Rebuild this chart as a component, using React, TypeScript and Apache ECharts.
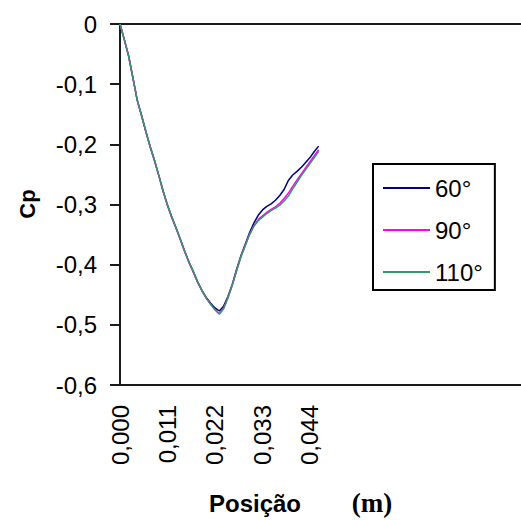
import React, { useEffect, useRef } from "react";
import * as echarts from "echarts";

const positions = [
  0, 0.001, 0.002, 0.003, 0.004, 0.005, 0.006, 0.007, 0.008, 0.009,
  0.01, 0.011, 0.012, 0.013, 0.014, 0.015, 0.016, 0.017, 0.018, 0.019,
  0.02, 0.021, 0.022, 0.023, 0.024, 0.025, 0.026, 0.027, 0.028, 0.029,
  0.03, 0.031, 0.032, 0.033, 0.034, 0.035, 0.036, 0.037, 0.038, 0.039,
  0.04, 0.041, 0.042, 0.043, 0.044, 0.045, 0.046,
];

const cp60 = [
  0, -0.026, -0.053, -0.09, -0.127, -0.152, -0.179, -0.204, -0.227, -0.252,
  -0.278, -0.301, -0.321, -0.339, -0.358, -0.378, -0.396, -0.412, -0.429, -0.443,
  -0.455, -0.464, -0.472, -0.477, -0.469, -0.453, -0.433, -0.408, -0.385, -0.366,
  -0.347, -0.331, -0.318, -0.309, -0.303, -0.299, -0.293, -0.285, -0.275, -0.26,
  -0.251, -0.245, -0.238, -0.23, -0.222, -0.212, -0.203,
];

const cp90 = [
  0, -0.026, -0.054, -0.09, -0.127, -0.153, -0.179, -0.205, -0.228, -0.252,
  -0.279, -0.302, -0.322, -0.34, -0.359, -0.379, -0.397, -0.413, -0.43, -0.444,
  -0.456, -0.466, -0.475, -0.482, -0.473, -0.455, -0.434, -0.41, -0.387, -0.368,
  -0.35, -0.336, -0.325, -0.319, -0.313, -0.308, -0.304, -0.298, -0.29, -0.281,
  -0.27, -0.259, -0.249, -0.239, -0.229, -0.219, -0.209,
];

const cp110 = [
  0, -0.026, -0.053, -0.09, -0.127, -0.152, -0.179, -0.204, -0.227, -0.252,
  -0.278, -0.301, -0.321, -0.339, -0.358, -0.378, -0.396, -0.412, -0.429, -0.443,
  -0.456, -0.466, -0.475, -0.482, -0.473, -0.455, -0.434, -0.41, -0.387, -0.368,
  -0.35, -0.336, -0.327, -0.321, -0.315, -0.31, -0.306, -0.301, -0.294, -0.286,
  -0.274, -0.263, -0.252, -0.242, -0.232, -0.222, -0.212,
];

const seriesNames = ["60°", "90°", "110°"];
const seriesColors = ["#000080", "#FF00FF", "#339966"];
const seriesValues = [cp60, cp90, cp110];

const yTitle = "Cp";
const xTitle = "Posição";
const xUnit = "(m)";

const FONT = "'Liberation Sans', Arial, sans-serif";

export default function App() {
  const ref = useRef<HTMLDivElement>(null);
  useEffect(() => {
    if (!ref.current) return;
    const chart = echarts.init(ref.current, null, { renderer: "svg" });
    const axisColor = "#1a1a1a";
    chart.setOption({
      animation: false,
      backgroundColor: "#ffffff",
      grid: {
        left: 120,
        top: 24,
        right: 0,
        bottom: 135,
        outerBoundsMode: "none",
        containLabel: false,
      },
      xAxis: [
        {
          type: "value",
          min: 0,
          max: 0.09287,
          interval: 0.011,
          position: "bottom",
          axisLine: { show: true, onZero: false, lineStyle: { color: axisColor, width: 2 } },
          axisTick: { show: false },
          splitLine: { show: false },
          axisLabel: {
            rotate: 90,
            margin: 20,
            color: "#000",
            fontFamily: FONT,
            fontSize: 24,
            showMaxLabel: false,
            formatter: (v: number) => (v <= 0.045 ? v.toFixed(3).replace(".", ",") : ""),
          },
        },
        {
          type: "value",
          min: 0,
          max: 0.09287,
          position: "top",
          axisLine: { show: true, onZero: false, lineStyle: { color: axisColor, width: 2 } },
          axisTick: { show: false },
          splitLine: { show: false },
          axisLabel: { show: false },
        },
      ],
      yAxis: {
        type: "value",
        min: -0.6,
        max: 0,
        interval: 0.1,
        axisLine: { show: true, onZero: false, lineStyle: { color: axisColor, width: 2 } },
        axisTick: { show: true, inside: false, length: 10, lineStyle: { color: axisColor, width: 2 } },
        splitLine: { show: false },
        axisLabel: {
          margin: 23,
          color: "#000",
          fontFamily: FONT,
          fontSize: 24,
          formatter: (v: number) => (Math.abs(v) < 1e-9 ? "0" : v.toFixed(1).replace(".", ",")),
        },
      },
      legend: {
        show: true,
        orient: "vertical",
        left: 373,
        top: 164,
        icon: "rect",
        itemWidth: 47,
        itemHeight: 2,
        itemGap: 16,
        padding: [11, 12, 5, 10],
        borderColor: "#000",
        borderWidth: 2,
        backgroundColor: "#fff",
        textStyle: { color: "#000", fontFamily: FONT, fontSize: 24, lineHeight: 26 },
        data: seriesNames,
      },
      series: seriesNames.map((name, i) => ({
        name,
        type: "line",
        xAxisIndex: 0,
        showSymbol: false,
        symbol: "none",
        data: positions.map((x, j) => [x, seriesValues[i][j]]),
        lineStyle: { color: seriesColors[i], width: 1.5 },
        itemStyle: { color: seriesColors[i] },
      })),
      graphic: [
        {
          type: "text",
          x: 27,
          y: 204,
          rotation: Math.PI / 2,
          style: {
            text: yTitle,
            fontFamily: FONT,
            fontWeight: "bold",
            fontSize: 22,
            fill: "#000",
            textAlign: "center",
            textVerticalAlign: "middle",
          },
        },
        {
          type: "text",
          x: 255,
          y: 503,
          style: {
            text: xTitle,
            fontFamily: FONT,
            fontWeight: "bold",
            fontSize: 24,
            fill: "#000",
            textAlign: "center",
            textVerticalAlign: "middle",
          },
        },
        {
          type: "text",
          x: 372,
          y: 503,
          style: {
            text: xUnit,
            fontFamily: "'Liberation Serif', 'Times New Roman', serif",
            fontWeight: "bold",
            fontSize: 27,
            fill: "#000",
            textAlign: "center",
            textVerticalAlign: "middle",
          },
        },
      ],
    });
    return () => chart.dispose();
  }, []);
  return (
    <div
      ref={ref}
      style={{ position: "absolute", left: 0, top: 0, width: 521, height: 520, background: "#fff" }}
    />
  );
}
